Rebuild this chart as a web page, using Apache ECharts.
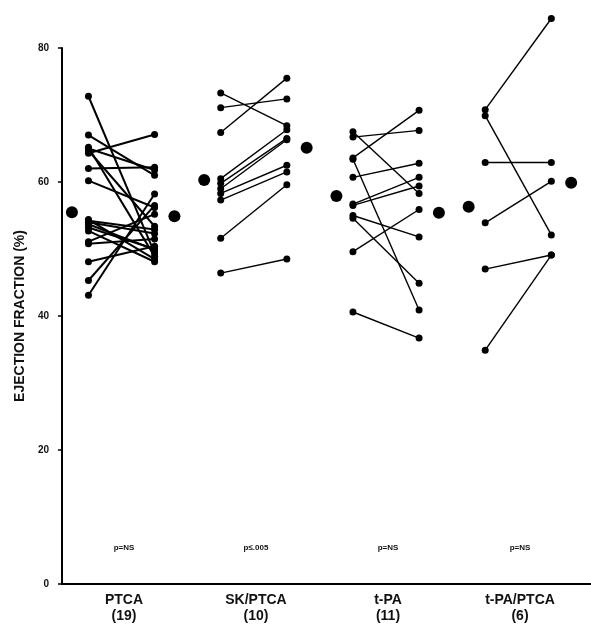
<!DOCTYPE html>
<html>
<head>
<meta charset="utf-8">
<title>Ejection fraction</title>
<script src="https://cdn.jsdelivr.net/npm/echarts@6/dist/echarts.min.js"></script>
<style>
  html, body { margin: 0; padding: 0; background: #fff; }
  #chart { width: 591px; height: 625px; }
</style>
</head>
<body>
<div id="chart"></div>
<script>
// group labels and p-values
const groups = ['PTCA\n(19)', 'SK/PTCA\n(10)', 't-PA\n(11)', 't-PA/PTCA\n(6)']
const pValues = ['p=NS', 'p≤.005', 'p=NS', 'p=NS']

// paired values per patient (before -> after)
const ptcaBefore = [72.8, 67.0, 65.2, 65.0, 64.7, 64.3, 62.0, 60.2, 54.4, 54.2, 54.0, 53.7, 53.2, 52.7, 51.1, 50.8, 48.1, 45.3, 43.1]
const ptcaAfter  = [49.4, 61.0, 48.9, 61.8, 53.4, 67.1, 62.2, 56.2, 48.5, 52.9, 52.3, 49.9, 50.0, 48.1, 55.2, 51.5, 50.4, 56.5, 58.2]
const skBefore = [73.3, 71.1, 67.4, 60.5, 59.8, 59.0, 58.3, 57.3, 51.6, 46.4]
const skAfter  = [68.4, 72.4, 75.5, 67.8, 66.5, 66.3, 62.5, 61.5, 59.6, 48.5]
const tpaBefore = [67.5, 66.7, 63.6, 63.4, 60.7, 56.7, 56.5, 55.0, 54.6, 49.6, 40.6]
const tpaAfter  = [58.3, 67.7, 70.7, 40.9, 62.8, 60.7, 59.4, 51.8, 44.9, 55.9, 36.7]
const tpaPtcaBefore = [70.8, 69.9, 62.9, 53.9, 47.0, 34.9]
const tpaPtcaAfter  = [84.4, 52.1, 62.9, 60.1, 49.1, 49.1]

// group means
const meanBefore = [55.5, 60.3, 57.9, 56.3]
const meanAfter  = [54.9, 65.1, 55.4, 59.9]

const pairs = [
  [ptcaBefore, ptcaAfter],
  [skBefore, skAfter],
  [tpaBefore, tpaAfter],
  [tpaPtcaBefore, tpaPtcaAfter]
]

const font = '"Liberation Sans", Arial, sans-serif'
const series = []

pairs.forEach(([before, after], g) => {
  const xL = 0.8 + 4 * g
  const xR = 2.8 + 4 * g
  before.forEach((v, i) => {
    series.push({
      type: 'line',
      xAxisIndex: 0,
      yAxisIndex: 0,
      data: [[xL, v], [xR, after[i]]],
      symbol: 'circle',
      symbolSize: 7,
      clip: false,
      itemStyle: { color: '#000', opacity: 1 },
      lineStyle: { color: '#000', width: g === 0 ? 2 : 1.4 },
      silent: true,
      z: 3
    })
  })
})

// mean dots beside each group
series.push({
  type: 'scatter',
  xAxisIndex: 0,
  yAxisIndex: 0,
  data: meanBefore.map((v, g) => [0.3 + 4 * g, v]).concat(meanAfter.map((v, g) => [3.4 + 4 * g, v])),
  symbolSize: 12,
  itemStyle: { color: '#000', opacity: 1 },
  silent: true,
  z: 4
})

const chart = echarts.init(document.getElementById('chart'))
chart.setOption({
  backgroundColor: '#fff',
  animation: false,
  grid: [
    { left: 62, right: 0, top: 48, bottom: 41 },
    { left: 58, right: 5, top: 48, bottom: 41 }
  ],
  xAxis: [
    {
      type: 'value', gridIndex: 0, min: 0, max: 16,
      axisLine: { show: true, lineStyle: { color: '#000', width: 2 } },
      axisTick: { show: false },
      axisLabel: { show: false },
      splitLine: { show: false }
    },
    {
      type: 'category', gridIndex: 1, data: groups, position: 'bottom',
      axisLine: { show: false },
      axisTick: { show: false },
      axisLabel: {
        color: '#111', fontFamily: font, fontSize: 14, fontWeight: 'bold', lineHeight: 16, margin: 8
      }
    },
    {
      type: 'category', gridIndex: 1, data: pValues, position: 'bottom',
      axisLine: { show: false },
      axisTick: { show: false },
      axisLabel: {
        inside: true, margin: 32,
        color: '#111', fontFamily: font, fontSize: 8, fontWeight: 'bold'
      }
    }
  ],
  yAxis: [
    {
      type: 'value', gridIndex: 0, min: 0, max: 80, interval: 20,
      name: 'EJECTION FRACTION (%)',
      nameLocation: 'middle',
      nameGap: 34,
      nameTextStyle: { color: '#111', fontFamily: font, fontSize: 14, fontWeight: 'bold' },
      axisLine: { show: true, lineStyle: { color: '#000', width: 2 } },
      axisTick: { show: true, length: 4, lineStyle: { color: '#000', width: 1.5 } },
      axisLabel: { color: '#111', fontFamily: font, fontSize: 10, fontWeight: 'bold', margin: 13 },
      splitLine: { show: false }
    },
    {
      type: 'value', gridIndex: 1, min: 0, max: 80, show: false
    }
  ],
  series: series
})
</script>
</body>
</html>
